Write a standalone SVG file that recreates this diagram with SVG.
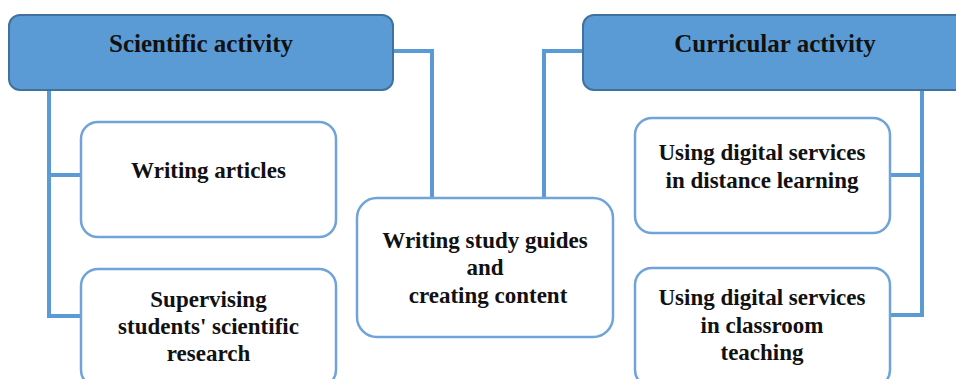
<svg xmlns="http://www.w3.org/2000/svg" width="956" height="379" viewBox="0 0 956 379">
<style>
.hdr{fill:#5B9BD5;stroke:#41719C;stroke-width:2}
.box{fill:#FFFFFF;stroke:#6FA3DA;stroke-width:2.5}
.con{fill:none;stroke:#5B9BD5;stroke-width:4}
text{font-family:"Liberation Serif","Times New Roman",serif;font-weight:bold;fill:#111;text-anchor:middle}
.h{font-size:25px}
.t{font-size:23px}
</style>
<rect width="956" height="379" fill="#FFFFFF"/>
<g id="connectors">
<polyline class="con" points="393,51 432,51 432,199"/>
<polyline class="con" points="583,51 544,51 544,199"/>
<polyline class="con" points="49,90 49,316 81,316"/>
<line class="con" x1="49" y1="175" x2="81" y2="175"/>
<polyline class="con" points="922,90 922,315 890,315"/>
<line class="con" x1="922" y1="175" x2="890" y2="175"/>
</g>
<g id="scientific">
<rect class="hdr" x="9" y="15" width="384" height="75" rx="11"/>
<text class="h" x="201" y="52">Scientific activity</text>
</g>
<g id="curricular">
<rect class="hdr" x="583" y="15" width="384" height="75" rx="11"/>
<text class="h" x="775" y="52">Curricular activity</text>
</g>
<g id="writing-articles">
<rect class="box" x="81" y="122" width="255" height="115" rx="17"/>
<text class="t" x="208.5" y="178">Writing articles</text>
</g>
<g id="supervising">
<rect class="box" x="81" y="269" width="255" height="118" rx="17"/>
<text class="t" x="208.5" y="307">Supervising</text>
<text class="t" x="208.5" y="334">students' scientific</text>
<text class="t" x="208.5" y="361">research</text>
</g>
<g id="study-guides">
<rect class="box" x="357" y="198" width="256" height="139" rx="20"/>
<text class="t" x="485" y="248">Writing study guides</text>
<text class="t" x="485" y="275">and</text>
<text class="t" x="488" y="303">creating content</text>
</g>
<g id="distance">
<rect class="box" x="635" y="118" width="255" height="115" rx="17"/>
<text class="t" x="762" y="160">Using digital services</text>
<text class="t" x="762" y="188">in distance learning</text>
</g>
<g id="classroom">
<rect class="box" x="635" y="268" width="255" height="119" rx="17"/>
<text class="t" x="762" y="305">Using digital services</text>
<text class="t" x="762" y="333">in classroom</text>
<text class="t" x="762" y="360">teaching</text>
</g>
</svg>
